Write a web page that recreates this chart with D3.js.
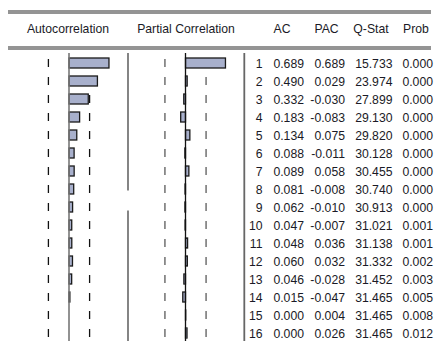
<!DOCTYPE html>
<html>
<head>
<meta charset="utf-8">
<script src="https://cdn.jsdelivr.net/npm/d3@7"></script>
<style>
  html, body { margin: 0; padding: 0; background: #fff; }
  svg { display: block; }
  text { font-family: "Liberation Sans", Arial, sans-serif; font-size: 13px; fill: #1a1a26; }
</style>
</head>
<body>
<svg id="chart" width="435" height="345"></svg>
<script>
// Correlogram table: lags, autocorrelations, partial autocorrelations, Q statistics and p-values
const lags = [1, 2, 3, 4, 5, 6, 7, 8, 9, 10, 11, 12, 13, 14, 15, 16];
const ac   = [0.689, 0.490, 0.332, 0.183, 0.134, 0.088, 0.089, 0.081, 0.062, 0.047, 0.048, 0.060, 0.046, 0.015, 0.000, 0.000];
const pac  = [0.689, 0.029, -0.030, -0.083, 0.075, -0.011, 0.058, -0.008, -0.010, -0.007, 0.036, 0.032, -0.028, -0.047, 0.004, 0.026];
const qstat = [15.733, 23.974, 27.899, 29.130, 29.820, 30.128, 30.455, 30.740, 30.913, 31.021, 31.138, 31.332, 31.452, 31.465, 31.465, 31.465];
const prob  = [0.000, 0.000, 0.000, 0.000, 0.000, 0.000, 0.000, 0.000, 0.000, 0.001, 0.001, 0.002, 0.003, 0.005, 0.008, 0.012];
const headers = ["Autocorrelation", "Partial Correlation", "AC", "PAC", "Q-Stat", "Prob"];
const band = 0.355; // approximate two-standard-error bound

const svg = d3.select("#chart");
const squeeze = 0.94; // slightly condensed lettering

const rowY = d3.scalePoint().domain(lags).range([63, 333]);
const acX  = d3.scaleLinear().domain([-1, 1]).range([11, 127]);
const pacX = d3.scaleLinear().domain([-1, 1]).range([127.5, 243.5]);

// header rules (double lines)
[11, 13, 47, 49].forEach(y => {
  svg.append("line").attr("x1", 8).attr("x2", 431).attr("y1", y).attr("y2", y)
    .attr("stroke", "#2a2a2a").attr("stroke-width", 1.2);
});

// header labels
const headerX = [68, 186, 282, 326.5, 371, 416];
svg.selectAll("text.hdr").data(headers).join("text")
  .attr("class", "hdr")
  .attr("transform", (d, i) => `translate(${headerX[i]},28) scale(${squeeze},1)`)
  .attr("dy", "0.35em")
  .attr("text-anchor", "middle")
  .text(d => d);

const yTop = 53, yBottom = 341;

// divider between the two bar panels (drawn in two pieces)
[[yTop, 190.5], [210.5, yBottom]].forEach(([a, b]) => {
  svg.append("line").attr("x1", 128).attr("x2", 128).attr("y1", a).attr("y2", b)
    .attr("stroke", "#666").attr("stroke-width", 1.6);
});
// divider before the numeric columns
svg.append("line").attr("x1", 244.3).attr("x2", 244.3).attr("y1", yTop).attr("y2", yBottom)
  .attr("stroke", "#666").attr("stroke-width", 1.8);

// confidence band markers
function bandMarks(x, color, w) {
  [-band, band].forEach(b => {
    svg.append("g").selectAll("line").data(lags).join("line")
      .attr("x1", x(b)).attr("x2", x(b))
      .attr("y1", d => rowY(d) - 4).attr("y2", d => rowY(d) + 4)
      .attr("stroke", color).attr("stroke-width", w);
  });
}
bandMarks(acX, "#111", 1.3);
bandMarks(pacX, "#888", 1.8);

// bars
function bars(x, vals) {
  svg.append("g").selectAll("rect").data(vals).join("rect")
    .attr("x", d => Math.min(x(0), x(d)))
    .attr("y", (d, i) => rowY(lags[i]) - 5)
    .attr("width", d => Math.abs(x(d) - x(0)))
    .attr("height", 10)
    .attr("fill", "#a8b0cc")
    .attr("stroke", d => d === 0 ? "none" : "#1a1a1a")
    .attr("stroke-width", 1.3);
}
bars(acX, ac);
bars(pacX, pac);

// zero axes
svg.append("line").attr("x1", acX(0)).attr("x2", acX(0)).attr("y1", yTop).attr("y2", yBottom)
  .attr("stroke", "#777").attr("stroke-width", 1.6);
svg.append("line").attr("x1", pacX(0)).attr("x2", pacX(0)).attr("y1", yTop).attr("y2", yBottom)
  .attr("stroke", "#111").attr("stroke-width", 1.3);

// numeric columns, right aligned
const fmt = d3.format(".3f");
const cols = [
  { x: 262.5, vals: lags, f: d => String(d) },
  { x: 304, vals: ac, f: fmt },
  { x: 345, vals: pac, f: fmt },
  { x: 392.5, vals: qstat, f: fmt },
  { x: 433, vals: prob, f: fmt }
];
cols.forEach(c => {
  svg.append("g").selectAll("text").data(c.vals).join("text")
    .attr("transform", (d, i) => `translate(${c.x},${rowY(lags[i])}) scale(${squeeze},1)`)
    .attr("dy", "0.35em")
    .attr("text-anchor", "end")
    .text(d => c.f(d).replace("−", "-"));
});
</script>
</body>
</html>
